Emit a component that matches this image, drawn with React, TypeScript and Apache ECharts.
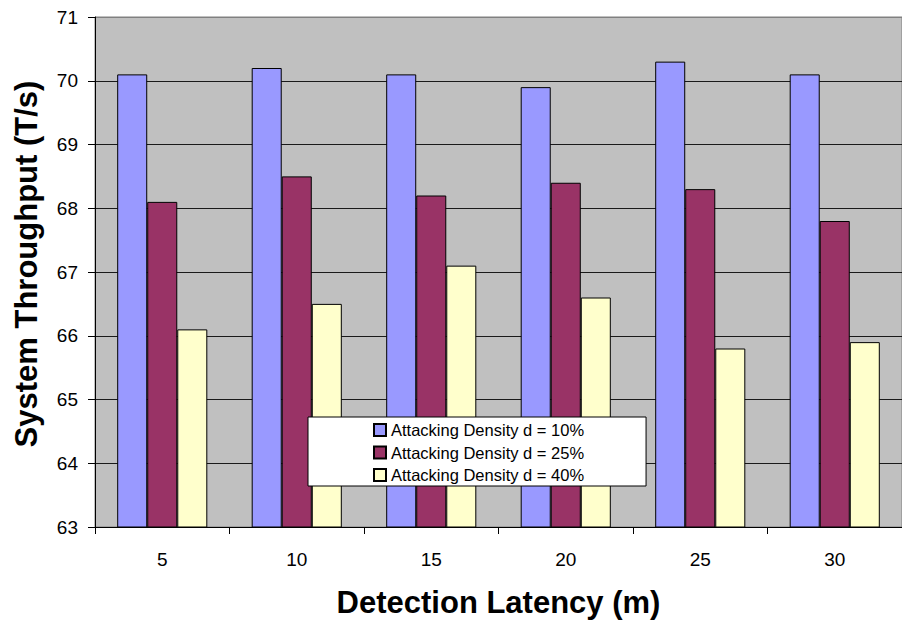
import React, { useEffect, useRef } from "react";
import * as echarts from "echarts";

const categories = ["5", "10", "15", "20", "25", "30"];
const seriesNames = [
  "Attacking Density d = 10%",
  "Attacking Density d = 25%",
  "Attacking Density d = 40%",
];
const density10 = [70.1, 70.2, 70.1, 69.9, 70.3, 70.1];
const density25 = [68.1, 68.5, 68.2, 68.4, 68.3, 67.8];
const density40 = [66.1, 66.5, 67.1, 66.6, 65.8, 65.9];
const seriesColors = ["#9999FF", "#993366", "#FFFFCC"];
const yMin = 63;
const yMax = 71;
const yInterval = 1;

const FONT = "'Liberation Sans', Arial, Helvetica, sans-serif";

export default function App() {
  const ref = useRef<HTMLDivElement>(null);
  useEffect(() => {
    if (!ref.current) return;
    const chart = echarts.init(ref.current, null, { renderer: "svg" });
    const data = [density10, density25, density40];
    const splitColors: string[] = [];
    for (let v = yMin; v <= yMax; v += yInterval) {
      splitColors.push(v === yMax ? "#808080" : "#1a1a1a");
    }
    chart.setOption({
      animation: false,
      backgroundColor: "#ffffff",
      textStyle: { fontFamily: FONT },
      grid: {
        left: 95,
        top: 17,
        width: 817,
        height: 511,
        show: true,
        backgroundColor: "#C0C0C0",
        borderColor: "#808080",
        borderWidth: 1,
      },
      legend: {
        orient: "vertical",
        left: 308,
        top: 417,
        data: seriesNames,
        itemWidth: 12,
        itemHeight: 12,
        itemGap: 2.5,
        icon: "rect",
        backgroundColor: "#ffffff",
        borderColor: "#000000",
        borderWidth: 1,
        padding: [3, 62, 1, 65],
        textStyle: {
          fontFamily: FONT,
          fontSize: 16.5,
          color: "#000000",
          lineHeight: 20,
        },
        z: 10,
      },
      xAxis: {
        type: "category",
        data: categories,
        boundaryGap: true,
        axisLine: { show: true, lineStyle: { color: "#000000", width: 1 } },
        axisTick: {
          show: true,
          inside: false,
          length: 7,
          interval: 0,
          lineStyle: { color: "#000000" },
        },
        axisLabel: {
          margin: 23,
          fontSize: 19,
          color: "#000000",
          fontFamily: FONT,
        },
        splitLine: { show: false },
        name: "Detection Latency (m)",
        nameLocation: "middle",
        nameGap: 60,
        nameTextStyle: {
          fontSize: 31,
          fontWeight: "bold",
          color: "#000000",
          fontFamily: FONT,
        },
      },
      yAxis: {
        type: "value",
        min: yMin,
        max: yMax,
        interval: yInterval,
        axisLine: { show: true, lineStyle: { color: "#000000", width: 1 } },
        axisTick: {
          show: true,
          inside: false,
          length: 7,
          lineStyle: { color: "#000000" },
        },
        axisLabel: {
          margin: 17,
          fontSize: 19,
          color: "#000000",
          fontFamily: FONT,
        },
        splitLine: {
          show: true,
          lineStyle: { color: splitColors, width: 1 },
        },
      },
      graphic: [
        {
          type: "text",
          x: 26,
          y: 264,
          rotation: Math.PI / 2,
          style: {
            text: "System Throughput (T/s)",
            font: `bold 31px ${FONT}`,
            fill: "#000000",
            align: "center",
            verticalAlign: "middle",
          },
        },
      ],
      series: seriesNames.map((name, i) => ({
        name,
        type: "bar",
        data: data[i],
        barGap: "0%",
        barCategoryGap: "33%",
        itemStyle: {
          color: seriesColors[i],
          borderColor: "#000000",
          borderWidth: 1,
        },
      })),
    });
    return () => chart.dispose();
  }, []);
  return (
    <div
      ref={ref}
      style={{ position: "fixed", left: 0, top: 0, width: 902, height: 623 }}
    />
  );
}
